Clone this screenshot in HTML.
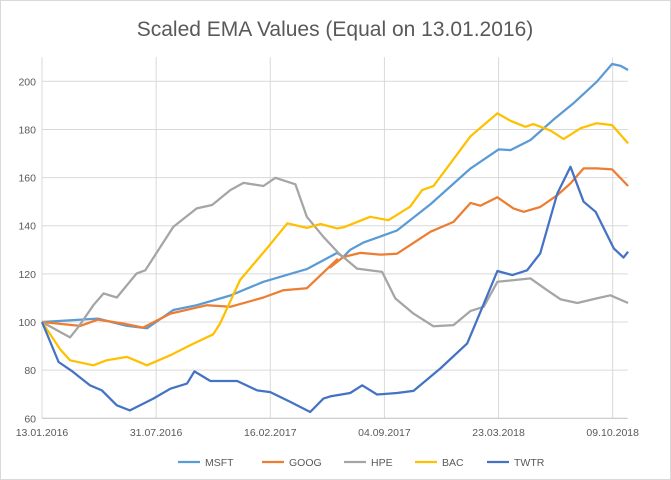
<!DOCTYPE html>
<html><head><meta charset="utf-8"><style>
html,body{margin:0;padding:0;background:#fff;}
svg{display:block;font-family:"Liberation Sans",sans-serif;}
</style></head><body>
<svg id="chart" width="671" height="480">
<rect x="0.5" y="0.5" width="670" height="479" fill="#fff" stroke="#d9d9d9"/>
<text x="335" y="36" text-anchor="middle" font-size="21" fill="#595959">Scaled EMA Values (Equal on 13.01.2016)</text>
<g id="grid"></g><g id="series"></g><g id="axes"></g><g id="legend"></g>
</svg>
<script>
const xTickLabels = ["13.01.2016","31.07.2016","16.02.2017","04.09.2017","23.03.2018","09.10.2018"];
const xTickDays = [0,200,400,600,800,1000];
const yTicks = [60,80,100,120,140,160,180,200];
const seriesNames = ["MSFT","GOOG","HPE","BAC","TWTR"];
const seriesColors = ["#5B9BD5","#ED7D31","#A5A5A5","#FFC000","#4472C4"];
const msftDays = [0,98,149,184,230,271,330,388,464,517,528,540,563,622,681,751,800,821,856,896,931,972,999,1014,1027];
const msftVals = [100,101.4,98.4,97.4,105,107,111,116.7,122,128.7,127,130,133,138,149,163.8,171.7,171.4,175.6,184,190.8,199.8,207.2,206.4,204.7];
const googDays = [0,67,98,142,177,225,289,330,388,423,464,517,505,528,558,593,622,681,721,751,768,798,826,844,873,903,926,949,972,999,1027];
const googVals = [100,98.4,101,99.4,97.7,103.5,107,106.3,110.2,113.2,114,126,122.7,127,128.7,128,128.4,137.5,141.6,149.5,148.3,151.8,147.2,145.8,147.8,152.7,157.6,163.8,163.8,163.4,156.5];
const hpeDays = [0,49,64,90,108,131,166,181,230,271,298,330,353,388,409,444,464,493,520,528,552,596,619,651,686,721,751,774,798,856,885,909,938,972,996,1027];
const hpeVals = [100,93.6,98,107,111.9,110.2,120.2,121.5,139.5,147.2,148.6,154.8,157.8,156.5,159.9,157.2,143.7,135.4,128.5,127,122.2,120.8,109.8,103.5,98.2,98.7,104.6,106.3,116.7,118.1,113.2,109.4,107.9,109.8,111.1,107.9];
const bacDays = [0,32,49,90,113,149,184,225,260,300,312,347,394,430,464,488,517,528,575,607,645,666,686,751,798,821,847,861,891,914,944,972,999,1027];
const bacVals = [100,88.6,84.1,82,84.1,85.5,82,86.2,90.4,94.9,99.4,117.4,130.6,141,139.1,140.7,138.9,139.3,143.7,142.3,147.9,154.8,156.5,177.2,186.7,183.6,181.1,182.2,179.5,176,180.5,182.6,181.8,174.2];
const twtrDays = [0,29,52,84,105,131,154,195,225,254,267,295,342,377,400,435,470,493,505,540,561,587,622,651,698,745,762,798,824,850,873,903,926,949,970,1002,1019,1027];
const twtrVals = [100,83.4,79.7,73.7,71.6,65.4,63.3,68.2,72.3,74.4,79.5,75.5,75.5,71.6,70.9,66.8,62.6,68.2,69.1,70.5,73.7,69.9,70.5,71.4,80.7,91.1,100.7,121.2,119.5,121.5,128.5,153.4,164.5,150,145.8,130.6,126.8,129.2];
const seriesDays = [msftDays,googDays,hpeDays,bacDays,twtrDays];
const seriesVals = [msftVals,googVals,hpeVals,bacVals,twtrVals];

const NS="http://www.w3.org/2000/svg";
const L=42,R=627.7,X1=1027;
const xS=d=>L+d*(614.3-42)/1000*(1000/1000);
function x(d){return L+d*(612.7-42)/1000;}
function y(v){return 418.3-(v-60)*(418.3-81.3)/140;}
function mk(t,a,p){const e=document.createElementNS(NS,t);for(const k in a)e.setAttribute(k,a[k]);p.appendChild(e);return e;}
const grid=document.getElementById('grid'),axes=document.getElementById('axes'),ser=document.getElementById('series'),leg=document.getElementById('legend');
yTicks.forEach(v=>{
  if(v>60){const g=mk('line',{x1:L,x2:R,y1:y(v),y2:y(v),stroke:'#d9d9d9','stroke-width':1},grid);
  
  }
  const t=mk('text',{x:36,y:y(v)+4,'text-anchor':'end','font-size':10.5,fill:'#595959'},axes);t.textContent=v;
  
  
});
xTickDays.forEach((d,i)=>{
  const g=mk('line',{x1:x(d),x2:x(d),y1:y(200)-24,y2:y(60),stroke:'#d9d9d9','stroke-width':1},grid);
  
  
  const t=mk('text',{x:x(d),y:436,'text-anchor':'middle','font-size':10.5,fill:'#595959'},axes);t.textContent=xTickLabels[i];
  
  
});
const ax=mk('line',{x1:L,x2:R,y1:y(60),y2:y(60),stroke:'#bfbfbf','stroke-width':1},axes);


seriesNames.forEach((n,i)=>{
  const pts=seriesDays[i].map((d,j)=>x(d).toFixed(1)+','+y(seriesVals[i][j]).toFixed(1)).join(' ');
  const p=mk('polyline',{points:pts,fill:'none',stroke:seriesColors[i],'stroke-width':2.25,'stroke-linejoin':'round'},ser);
  
  
});
const legX=[178,262,344,415,487];
seriesNames.forEach((n,i)=>{
  const g=mk('g',{},leg);
  
  
  mk('line',{x1:legX[i],x2:legX[i]+22,y1:462,y2:462,stroke:seriesColors[i],'stroke-width':2.25},g);
  const t=mk('text',{x:legX[i]+27,y:466,'font-size':10.5,fill:'#595959'},g);t.textContent=n;
});
</script>
</body></html>
